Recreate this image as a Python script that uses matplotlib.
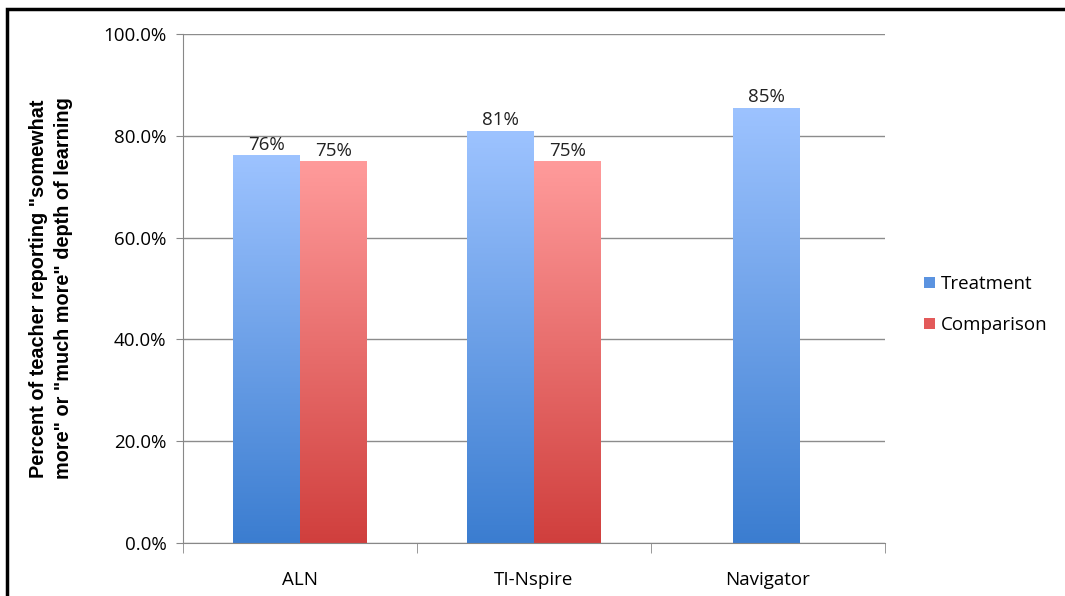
import numpy as np
import matplotlib
matplotlib.use('Agg')
import matplotlib.pyplot as plt
from matplotlib.colors import LinearSegmentedColormap
from matplotlib.patches import Rectangle, Patch

categories = ['ALN', 'TI-Nspire', 'Navigator']
treatment = [0.762, 0.810, 0.855]
comparison = [0.750, 0.750, None]
treat_labels = ['76%', '81%', '85%']
comp_labels = ['75%', '75%', None]
yticks = [0.0, 0.2, 0.4, 0.6, 0.8, 1.0]

blue_cm = LinearSegmentedColormap.from_list('b', ['#3b7dd0', '#9dc3ff'])
red_cm = LinearSegmentedColormap.from_list('r', ['#d03f3d', '#ff9b9b'])

fig = plt.figure(figsize=(10.65, 5.96), dpi=100)
ax = fig.add_axes([183/1065, 1-543/596, (885-183)/1065, (543-34)/596])

w = 0.286
grad = np.linspace(0, 1, 256).reshape(-1, 1)


def gbar(x, h, cmap):
    r = Rectangle((x - w/2, 0), w, h, facecolor='none', edgecolor='none')
    ax.add_patch(r)
    im = ax.imshow(grad, cmap=cmap, extent=[x - w/2, x + w/2, 0, h],
                   origin='lower', aspect='auto', zorder=2)
    im.set_clip_path(r)


for i in range(len(categories)):
    if comparison[i] is None:
        xt = i - 0.007
    else:
        xt = i - 0.143
    gbar(xt, treatment[i], blue_cm)
    ax.text(xt, treatment[i] + 0.003, treat_labels[i], ha='center', va='bottom',
            fontsize=13.5, family='Open Sans', color='#222222')
    if comparison[i] is not None:
        xc = i + 0.143
        gbar(xc, comparison[i], red_cm)
        ax.text(xc, comparison[i] + 0.003, comp_labels[i], ha='center', va='bottom',
                fontsize=13.5, family='Open Sans', color='#222222')

ax.set_xlim(-0.5, 2.5)
ax.set_ylim(0, 1.0)
ax.set_yticks(yticks)
ax.set_yticklabels(['%.1f%%' % (v*100) for v in yticks], family='Open Sans', fontsize=13.5)
ax.set_xticks(range(3))
ax.set_xticklabels(categories, family='Open Sans', fontsize=13.5)
ax.set_xticks([-0.5, 0.5, 1.5, 2.5], minor=True)
ax.tick_params(axis='x', which='major', length=0, pad=20)
ax.tick_params(axis='x', which='minor', length=7, color='#888888')
ax.tick_params(axis='y', length=5, color='#888888', pad=7)
ax.grid(axis='y', color='#8c8c8c', linewidth=1)
ax.set_axisbelow(True)
for s in ['top', 'right']:
    ax.spines[s].set_visible(False)
for s in ['left', 'bottom']:
    ax.spines[s].set_color('#888888')

ax.set_ylabel('Percent of teacher reporting "somewhat\nmore" or "much more" depth of learning',
              family='Liberation Sans', fontweight='bold', fontsize=14.3, labelpad=22,
              linespacing=1.4)

handles = [Patch(facecolor='#5b93e0', label='Treatment'),
           Patch(facecolor='#e35a5a', label='Comparison')]
fig.legend(handles=handles, loc='center left', bbox_to_anchor=(0.852, 0.489),
           frameon=False, prop={'family': 'Open Sans', 'size': 13.5},
           handlelength=0.55, handleheight=0.55, handletextpad=0.35, labelspacing=1.25)

# outer frame
fig.patches.append(Rectangle((7/1065, -0.05), 1.1, 1 - 9/596 + 0.05, transform=fig.transFigure,
                             fill=False, edgecolor='black', linewidth=2.5))

fig.savefig('out.png', dpi=100)
